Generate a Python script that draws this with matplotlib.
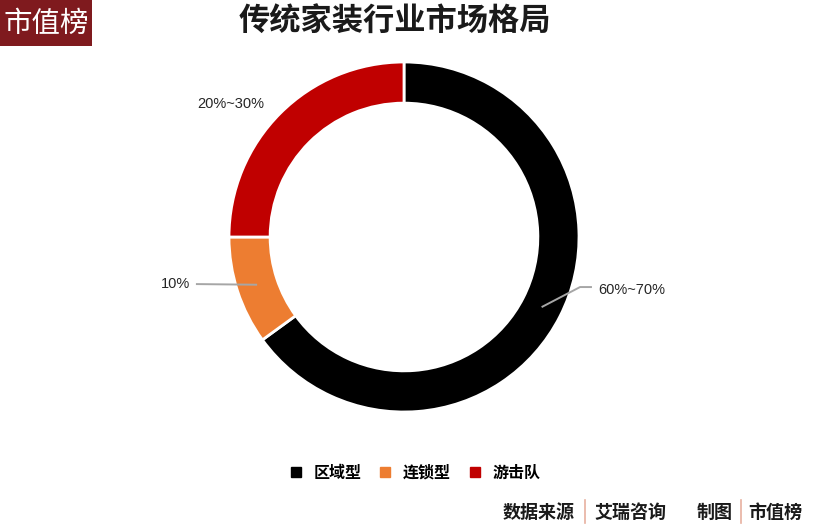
import matplotlib
matplotlib.use("Agg")
import matplotlib.pyplot as plt
import numpy as np

plt.rcParams['font.family'] = ['Noto Sans CJK SC', 'DejaVu Sans']

# data
categories = ['区域型', '连锁型', '游击队']
shares = [65, 10, 25]
share_labels = ['60%~70%', '10%', '20%~30%']
colors = ['#000000', '#ED7D31', '#C00000']
title = '传统家装行业市场格局'

W, H = 817, 524
fig = plt.figure(figsize=(W / 100, H / 100), dpi=100)
fig.patch.set_facecolor('white')

# donut: center (404, 237) px, radius 175 px
cx, cy, R = 404, 237, 175
ax = fig.add_axes([(cx - R) / W, 1 - (cy + R) / H, 2 * R / W, 2 * R / H])
ring = 0.235
wedges, _ = ax.pie(shares, colors=colors, startangle=90, counterclock=False,
                   radius=1.0, wedgeprops=dict(width=ring, edgecolor='white', linewidth=2))
ax.set_xlim(-1, 1)
ax.set_ylim(-1, 1)
ax.set_aspect('equal')
ax.axis('off')

# label placement (text anchor, leader path end points)
num_font = ['Liberation Sans', 'DejaVu Sans']
label_cfg = [
    dict(text=(1.109, -0.30), ha='left', path=[(1.006, -0.286), (1.074, -0.286)]),
    dict(text=(-1.223, -0.27), ha='right', path=[(-1.189, -0.269)]),
    dict(text=(-0.99, 0.76), ha='center', path=None),
]
for w, lab, cfg in zip(wedges, share_labels, label_cfg):
    mid = np.deg2rad((w.theta1 + w.theta2) / 2)
    r = 1 - ring / 2
    px, py = r * np.cos(mid), r * np.sin(mid)
    if cfg['path']:
        xs = [px] + [p[0] for p in cfg['path']]
        ys = [py] + [p[1] for p in cfg['path']]
        ax.plot(xs, ys, color='#A6A6A6', lw=1.4, clip_on=False, solid_capstyle='butt')
    ax.text(cfg['text'][0], cfg['text'][1], lab, ha=cfg['ha'], va='center',
            fontsize=10.5, color='#262626', family=num_font, clip_on=False)

# title
fig.text(395 / W, 1 - 22 / H, title, ha='center', va='center', fontsize=22.5,
         fontweight='bold', color='#1a1a1a')

# logo box top-left
fig.patches.append(plt.Rectangle((0, 1 - 46 / H), 92 / W, 46 / H, transform=fig.transFigure,
                                 facecolor='#7F1A1E', edgecolor='none'))
fig.text(46 / W, 1 - 24 / H, '市值榜', ha='center', va='center', fontsize=20.5,
         color='white')

# legend
handles = [plt.Line2D([], [], marker='s', linestyle='none', markersize=7,
                      markerfacecolor=c, markeredgecolor=c) for c in colors]
leg = fig.legend(handles, categories, loc='center', bbox_to_anchor=(415 / W, 1 - 473 / H),
                 ncol=3, frameon=False, fontsize=11.5, handlelength=0.8, handletextpad=0.7,
                 columnspacing=1.1)
for t in leg.get_texts():
    t.set_fontweight('bold')

# source footer
fy = 1 - 512 / H
for txt, x in [('数据来源', 539), ('艾瑞咨询', 630), ('制图', 715), ('市值榜', 775)]:
    fig.text(x / W, fy, txt, ha='center', va='center', fontsize=13, fontweight='bold',
             color='#1a1a1a')
for sx in [585, 741]:
    fig.add_artist(plt.Line2D([sx / W, sx / W], [1 - 523 / H, 1 - 500 / H],
                              transform=fig.transFigure, color='#E8B0A0', lw=1.2))

fig.savefig('out.png', dpi=100, facecolor='white')
